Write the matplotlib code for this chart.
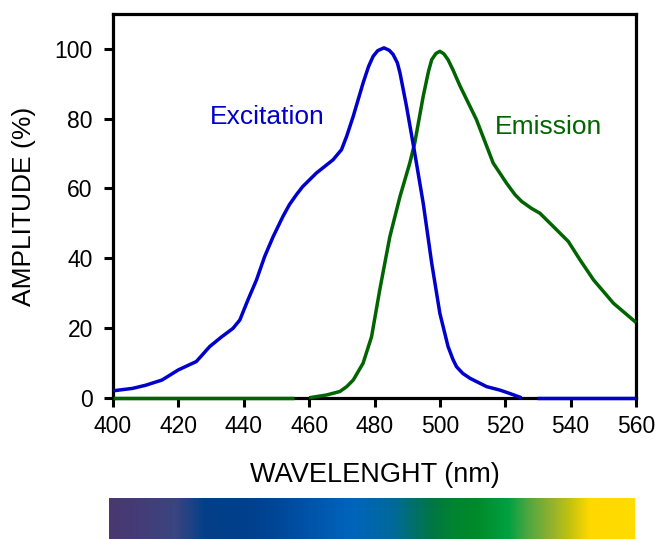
import numpy as np
import matplotlib
matplotlib.use("Agg")
import matplotlib.pyplot as plt
from matplotlib.colors import LinearSegmentedColormap

plt.rcParams['font.family'] = ['Liberation Sans', 'DejaVu Sans']

# Excitation spectrum (nm, %)
exc_wl = [400, 406, 410, 415, 420, 425.5, 429.6, 433, 436.7, 438.8, 441.3, 443.9, 446.4, 449, 452,
          454, 456.1, 458, 462.2, 467.3, 469.9, 471.5, 473.5, 476.5, 478.2, 479.6, 481, 482.9,
          484.5, 485.7, 487, 487.8, 489.8, 492.3, 494.9, 497.5, 500, 502.5, 504, 505.1, 507,
          509.2, 514.3, 518.4, 521.5, 525]
exc_val = [2.0, 2.7, 3.6, 5.1, 8.0, 10.4, 14.7, 17.3, 19.9, 22.3, 28.1, 33.8, 40.5, 46.2, 52,
           55.4, 58.2, 60.5, 64.4, 68.2, 71.1, 75, 80.7, 90.2, 95, 97.9, 99.5, 100.3,
           99.6, 98.4, 96, 93.1, 83.5, 70.2, 55.8, 38.6, 24.2, 14.7, 11, 8.9, 7,
           5.6, 3.2, 2.2, 1.2, 0]
exc_tail_wl = [529.7, 560]
exc_tail_val = [0, 0]

# Emission spectrum (nm, %)
em_base_wl = [400, 455.5]
em_base_val = [0, 0]
em_wl = [460, 465.3, 469.4, 471.5, 473.5, 476.5, 479.1, 481.6, 484.7, 487.8, 490.8, 492.3, 494.9,
         496.5, 497.5, 498.8, 500, 501.2, 502.5, 504, 506.1, 511.2, 516.3, 520.4, 523, 525,
         528, 530.6, 534.7, 539.3, 542.9, 547, 553.1, 560]
em_val = [0, 0.8, 1.8, 3.2, 5.1, 9.9, 17.5, 30.9, 46.2, 57.7, 67.3, 73, 86.4,
          93.5, 96.9, 98.7, 99.3, 98.6, 96.9, 94, 89.5, 79.7, 67.3, 61.5, 58.2, 56.3,
          54.3, 52.9, 49.1, 44.8, 39.5, 33.8, 27.1, 21.6]

x_ticks = [400, 420, 440, 460, 480, 500, 520, 540, 560]
y_ticks = [0, 20, 40, 60, 80, 100]

# spectrum bar colour stops (position along bar, colour)
bar_pos = [0.0, 0.06, 0.125, 0.18, 0.25, 0.31, 0.365, 0.42, 0.46, 0.495, 0.54, 0.58,
           0.62, 0.66, 0.70, 0.76, 0.80, 0.84, 0.875, 0.915, 1.0]
bar_col = ['#4a3870', '#443c78', '#3a4580', '#034088', '#003f8a', '#004595', '#0050a5',
           '#005cb2', '#0064bb', '#0066b0', '#006a9a', '#00706a', '#007840', '#008530',
           '#008a2a', '#00a040', '#50a840', '#90b030', '#c0c010', '#ffd800', '#ffdc00']

BLUE = '#0000cc'
GREEN = '#006400'

fig = plt.figure(figsize=(6.55, 5.39), dpi=100)
ax = fig.add_axes([113/655, 1-397.8/539, (636-113)/655, (397.8-14)/539])

lw = 2.5
ax.plot(em_base_wl, em_base_val, color=GREEN, lw=lw, zorder=3, clip_on=False, solid_capstyle='butt')
ax.plot(em_wl, em_val, color=GREEN, lw=lw, zorder=3, clip_on=False, solid_capstyle='butt')
ax.plot(exc_wl, exc_val, color=BLUE, lw=lw, zorder=4, clip_on=False, solid_capstyle='butt')
ax.plot(exc_tail_wl, exc_tail_val, color=BLUE, lw=lw, zorder=4, clip_on=False, solid_capstyle='butt')

ax.set_xlim(400, 560)
ax.set_ylim(0, 110)
ax.set_xticks(x_ticks)
ax.set_yticks(y_ticks)
for s in ax.spines.values():
    s.set_linewidth(2.3)
ax.tick_params(axis='both', direction='out', length=6.5, width=2.2, labelsize=16.5)
ax.tick_params(axis='x', pad=6)
ax.tick_params(axis='y', pad=8)
ax.tick_params(top=False, right=False)

ax.text(447.2, 80.6, 'Excitation', color=BLUE, fontsize=19, ha='center', va='center')
ax.text(533.2, 77.7, 'Emission', color=GREEN, fontsize=19, ha='center', va='center')

fig.text(24/655, 1-206/539, 'AMPLITUDE (%)', fontsize=19, rotation=90, ha='center', va='center')
fig.text((113+636)/2/655, 1-475/539, 'WAVELENGHT (nm)', fontsize=19.5, ha='center', va='center')

cmap = LinearSegmentedColormap.from_list('spec', list(zip(bar_pos, bar_col)))
bax = fig.add_axes([109/655, 0, (635-109)/655, (539-497.5)/539])
bax.imshow(np.linspace(0, 1, 512)[None, :], aspect='auto', cmap=cmap, extent=[0, 1, 0, 1])
bax.set_axis_off()

fig.savefig('out.png', dpi=100)
